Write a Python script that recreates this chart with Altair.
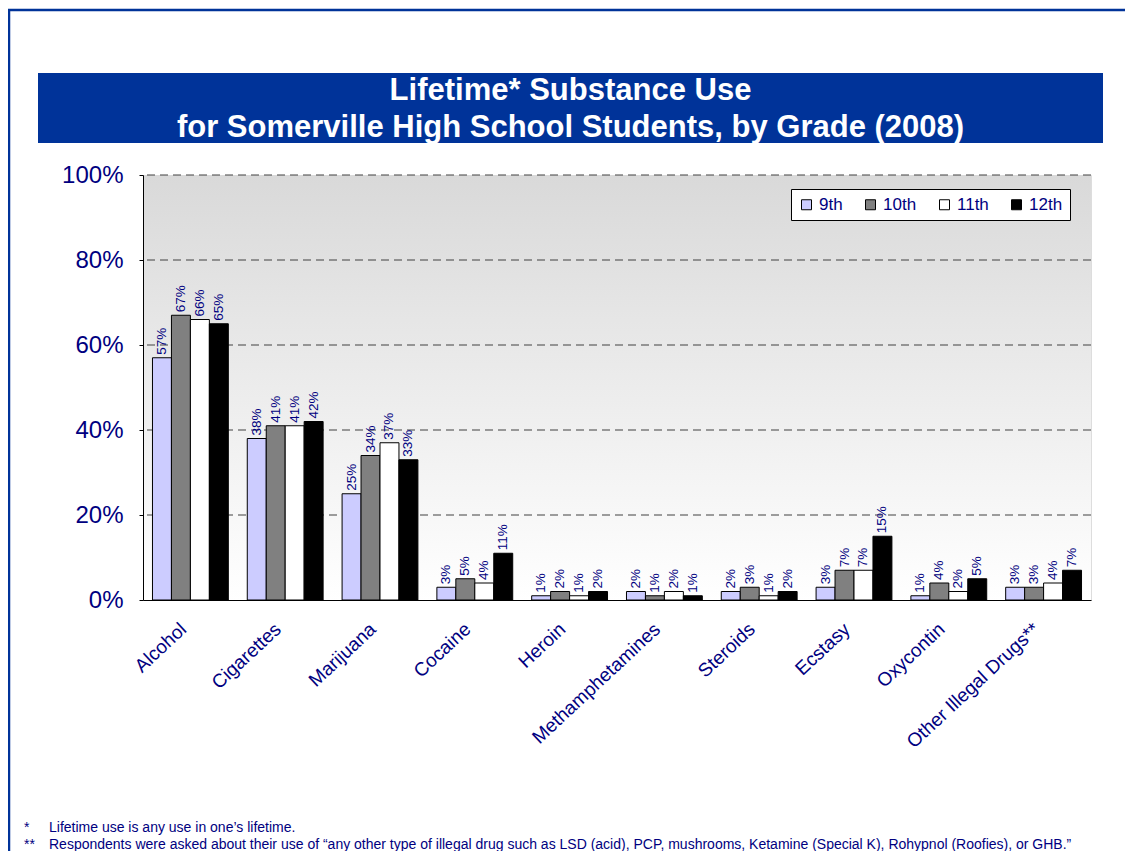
import altair as alt
import pandas as pd

categories = ["Alcohol", "Cigarettes", "Marijuana", "Cocaine", "Heroin",
              "Methamphetamines", "Steroids", "Ecstasy", "Oxycontin",
              "Other Illegal Drugs**"]
grades = ["9th", "10th", "11th", "12th"]
grade9 = [57, 38, 25, 3, 1, 2, 2, 3, 1, 3]
grade10 = [67, 41, 34, 5, 2, 1, 3, 7, 4, 3]
grade11 = [66, 41, 37, 4, 1, 2, 1, 7, 2, 4]
grade12 = [65, 42, 33, 11, 2, 1, 2, 15, 5, 7]
grade_colors = ["#ccccff", "#808080", "#ffffff", "#000000"]
y_ticks = [0, 20, 40, 60, 80, 100]
title_lines = ["Lifetime* Substance Use",
               "for Somerville High School Students, by Grade (2008)"]
footnote_marks = ["*", "**"]
footnotes = [
    "Lifetime use is any use in one\u2019s lifetime.",
    "Respondents were asked about their use of \u201cany other type of illegal drug such as LSD (acid), PCP, mushrooms, Ketamine (Special K), Rohypnol (Roofies), or GHB.\u201d",
]

rows = []
for g, vals in zip(grades, [grade9, grade10, grade11, grade12]):
    for c, v in zip(categories, vals):
        rows.append({"category": c, "grade": g, "value": v, "label": f"{v}%"})
df = pd.DataFrame(rows)
grid_df = pd.DataFrame({"value": y_ticks[1:]})

W, H = 948, 425
NAVY = "#000080"
BLUE = "#003399"
FONT = "Arial"

x_enc = alt.X("category:N", sort=categories,
              scale=alt.Scale(paddingInner=0.2, paddingOuter=0.1),
              axis=alt.Axis(title=None, labelAngle=-43, labelAlign="right",
                            labelBaseline="middle", labelFontSize=19,
                            labelColor=NAVY, labelFont=FONT, ticks=False,
                            labelPadding=26, labelOffset=-7,
                            domainColor="black", grid=False,
                            labelLimit=300, zindex=1))
y_enc = alt.Y("value:Q", scale=alt.Scale(domain=[0, 100]),
              axis=alt.Axis(title=None, values=y_ticks,
                            labelExpr="datum.value + '%'", labelFontSize=24,
                            labelColor=NAVY, labelFont=FONT, tickSize=4,
                            tickColor="black", labelPadding=16,
                            domainColor="black", grid=False, zindex=1))
xoff = alt.XOffset("grade:N", sort=grades,
                   scale=alt.Scale(paddingInner=0, paddingOuter=0))

one = pd.DataFrame({"a": [0]})

gradient = alt.LinearGradient(
    gradient="linear",
    stops=[alt.GradientStop(color="#d9d9d9", offset=0),
           alt.GradientStop(color="#ffffff", offset=1)],
    x1=0, x2=0, y1=0, y2=1)

background = alt.Chart(one).mark_rect(color=gradient).encode(
    x=alt.value(0), x2=alt.value(W), y=alt.value(0), y2=alt.value(H))

grid = alt.Chart(grid_df).mark_rule(color="#404040", strokeWidth=1,
                                    strokeDash=[8, 5]).encode(y=y_enc)

bars = alt.Chart(df).mark_bar(stroke="black", strokeWidth=1, opacity=1).encode(
    x=x_enc, y=y_enc, xOffset=xoff,
    color=alt.Color("grade:N", sort=grades,
                    scale=alt.Scale(domain=grades, range=grade_colors),
                    legend=alt.Legend(title=None, orient="none", legendX=648,
                                      legendY=14, direction="horizontal",
                                      symbolType="square", symbolSize=100,
                                      symbolStrokeColor="black",
                                      symbolStrokeWidth=1, labelFontSize=17,
                                      labelColor=NAVY, labelFont=FONT,
                                      fillColor="white", strokeColor="black",
                                      padding=7, columnPadding=19,
                                      labelOffset=4)),
)

labels = alt.Chart(df).mark_text(angle=270, align="left", baseline="middle",
                                 dx=3, fontSize=13.5, color=NAVY, font=FONT).encode(
    x=x_enc, y=y_enc, xOffset=xoff, text="label:N")

banner = alt.Chart(one).mark_rect(color=BLUE).encode(
    x=alt.value(-105), x2=alt.value(960), y=alt.value(-102), y2=alt.value(-32))

title_layers = []
for line, yy in zip(title_lines, [-84, -47]):
    title_layers.append(
        alt.Chart(one).mark_text(color="white", fontSize=31, fontWeight="bold",
                                 font=FONT, align="center", baseline="middle").encode(
            x=alt.value(427.5), y=alt.value(yy), text=alt.value(line)))

foot_layers = []
for mark, note, yy in zip(footnote_marks, footnotes, [653, 670]):
    foot_layers.append(
        alt.Chart(one).mark_text(color=NAVY, fontSize=14, font=FONT,
                                 align="left", baseline="middle").encode(
            x=alt.value(-119), y=alt.value(yy), text=alt.value(mark)))
    foot_layers.append(
        alt.Chart(one).mark_text(color=NAVY, fontSize=14, font=FONT,
                                 align="left", baseline="middle").encode(
            x=alt.value(-94), y=alt.value(yy), text=alt.value(note)))

border_top = alt.Chart(one).mark_rule(color=BLUE, strokeWidth=2.5).encode(
    x=alt.value(-136), x2=alt.value(990), y=alt.value(-165))
border_left = alt.Chart(one).mark_rule(color=BLUE, strokeWidth=2.5).encode(
    x=alt.value(-134), y=alt.value(-166), y2=alt.value(690))

chart = alt.layer(
    background, grid, bars, labels, banner, *title_layers, *foot_layers,
    border_top, border_left
).properties(
    width=W, height=H,
    autosize=alt.AutoSizeParams(type="none"),
    padding={"left": 135, "top": 167, "right": 34, "bottom": 251},
).configure_view(strokeWidth=0).configure(font=FONT)

chart.save("out.html", embed_options={"renderer": "svg", "actions": False})
